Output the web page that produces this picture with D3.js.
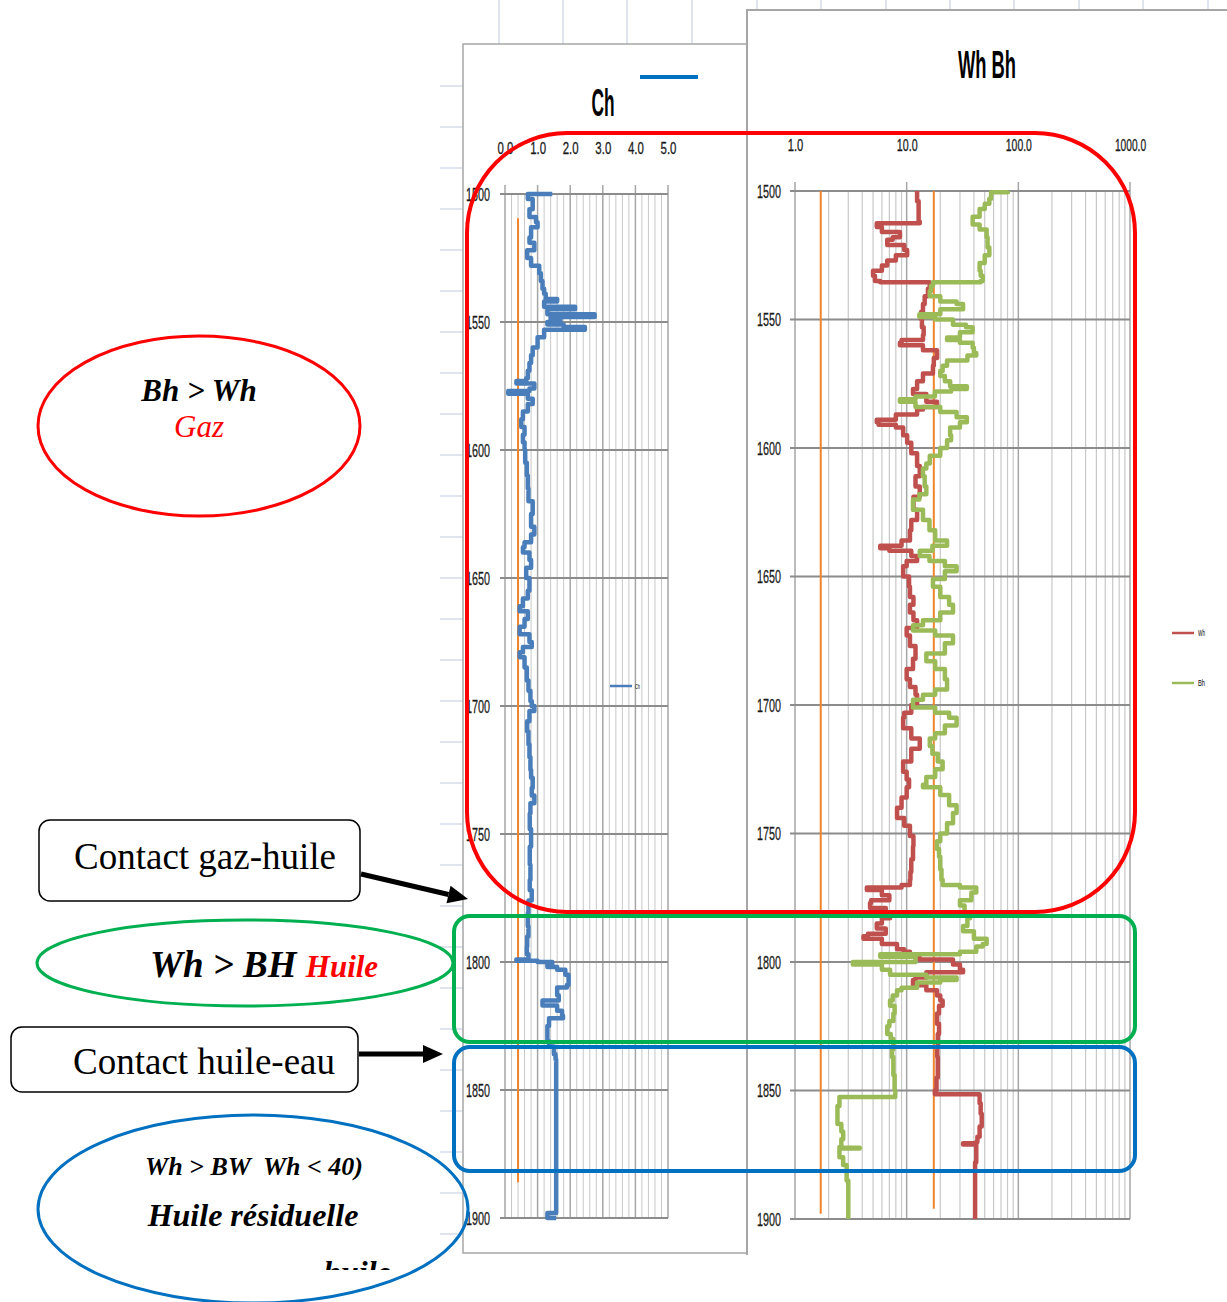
<!DOCTYPE html>
<html>
<head>
<meta charset="utf-8">
<script src="https://cdn.jsdelivr.net/npm/d3@7"></script>
<style>
  body { margin: 0; background: #fff; }
  svg { display: block; }
</style>
</head>
<body>
<svg id="chart" width="1227" height="1302"></svg>
<script>
// depth ticks shared by both tracks
const depthTicks = [1500, 1550, 1600, 1650, 1700, 1750, 1800, 1850, 1900]
const chTicks = [0, 1, 2, 3, 4, 5]
const logTicks = [1, 10, 100, 1000]

// Ch track (depth m, Ch value)
const chDepth = [1500,1500,1502,1506,1509,1511,1513,1517,1519,1522,1525,1528,1531,1534,1537,1539,1541,1542,1544,1545,1547,1548,1549,1550,1551,1552,1553,1556,1560,1563,1566,1569,1572,1573,1574,1576,1577,1578,1580,1582,1585,1588,1591,1594,1597,1600,1605,1610,1615,1620,1625,1630,1633,1636,1638,1640,1643,1646,1650,1655,1658,1661,1663,1666,1669,1672,1675,1677,1679,1681,1685,1690,1694,1698,1700,1702,1706,1710,1715,1720,1725,1728,1732,1735,1738,1742,1748,1755,1762,1768,1772,1776,1781,1786,1790,1794,1797,1799,1799.5,1800,1801,1802,1803,1805,1809,1810,1813,1815,1817,1819,1821,1822,1825,1831,1833,1836,1838,1850,1896,1898,1900]
const chValue = [1.45,0.7,0.85,0.75,0.95,1.0,0.8,0.75,0.9,0.68,0.8,1.05,1.1,1.15,1.2,1.25,1.6,1.2,2.15,1.3,2.75,1.4,1.7,1.3,1.8,2.45,1.2,1.0,0.85,0.8,0.75,0.7,0.65,0.35,0.9,0.75,0.1,0.7,0.85,0.7,0.55,0.5,0.6,0.55,0.6,0.62,0.67,0.7,0.72,0.85,0.8,0.9,0.8,0.6,0.55,0.75,0.8,0.65,0.75,0.7,0.55,0.45,0.7,0.6,0.45,0.75,0.82,0.55,0.45,0.6,0.67,0.72,0.78,0.82,0.9,0.75,0.68,0.72,0.75,0.78,0.8,0.85,0.82,0.9,0.78,0.76,0.8,0.76,0.78,0.76,0.82,0.72,0.7,0.72,0.68,0.67,0.72,0.35,1.0,1.45,1.3,1.6,1.85,1.95,1.9,1.6,1.65,1.15,1.6,1.75,1.78,1.35,1.3,1.35,1.5,1.55,1.57,1.57,1.57,1.3,1.57]

// Wh track
const whDepth = [1500,1504,1508,1512,1512.5,1514,1516,1518,1519,1521,1523,1525,1527,1529,1531,1533,1535,1535.5,1538,1541,1544,1547,1550,1553,1556,1558,1559,1560,1562,1565,1568,1571,1574,1577,1579,1582,1584,1585,1587,1589,1590,1591,1592,1595,1598,1602,1607,1611,1615,1619,1624,1628,1632,1636,1638,1639,1640,1642,1644,1646,1650,1654,1658,1661,1664,1667,1670,1673,1677,1682,1686,1690,1693,1696,1700,1703,1705,1709,1713,1717,1722,1726,1729,1732,1736,1740,1744,1747,1751,1755,1760,1765,1768,1770,1771,1772,1774,1776,1777,1779,1781,1783,1785,1787,1789,1790,1791,1793,1795,1796,1797,1799,1801,1803,1804,1806,1807,1809,1811,1813,1815,1817,1820,1824,1828,1833,1837,1845,1850,1851,1851.5,1855,1859,1864,1868,1870,1870.5,1871,1874,1878,1900]
const whValue = [12.4,12.8,12.8,13.1,5.4,6.0,8.7,7.5,6.7,9.5,10.1,8,6.7,6.0,5.0,5.2,5.8,16.1,15.5,14.5,14.0,13.5,13.7,14.2,14.0,9.0,8.7,14,18.7,17.5,17.2,14,12.4,11.4,15,18.7,14,12.4,8,5.4,5.6,8,9.3,10.1,11,12.4,13.1,12,13.1,11.5,12.4,11,10.7,9,5.8,7,11,12.4,10,9.3,10.5,10.7,11.5,10.7,11.5,12.4,10,10.7,12,11.4,10,10.7,12,12.4,11,9.5,9.3,11,13.1,11,9.3,10,10.5,10,9,8.2,9.5,10.7,11.5,11.4,11,10.8,10.7,9,4.4,6,7,4.8,4.7,6.5,7.1,6,5.4,6.5,4.5,4.1,6,8.2,9.5,10.7,13,26,30,32,15,12,11.4,15,18.7,20,21,19.5,18.7,19.5,19,18.8,19,18.5,17.9,17.9,45,46,47,45,43,42,32,42,42,41,41]

// Bh track
const bhDepth = [1500,1500.5,1503,1505,1507,1510,1513,1515,1518,1522,1525,1528,1531,1533,1535,1535.5,1537,1539,1541,1543,1544,1546,1548,1549,1550,1552,1553,1555,1557,1558,1559,1561,1563,1564,1566,1568,1570,1572,1574,1576,1577,1578,1580,1581,1582,1584,1586,1588,1590,1592,1595,1597,1600,1603,1606,1608,1611,1615,1618,1620,1624,1628,1632,1636,1638,1640,1642,1644,1646,1648,1651,1654,1658,1661,1664,1667,1669,1671,1673,1676,1680,1683,1686,1690,1694,1696,1698,1701,1703,1705,1708,1711,1713,1716,1719,1722,1725,1728,1731,1732,1735,1739,1742,1746,1750,1753,1756,1759,1764,1768,1770,1771,1773,1776,1778,1781,1783,1786,1788,1791,1793,1794,1796,1797,1798,1800,1801,1803,1805,1806,1807,1808,1810,1811,1813,1815,1817,1820,1823,1825,1828,1830,1834,1837,1844,1850,1852,1852.5,1856,1859,1863,1866,1869,1872,1872.3,1872.6,1876,1879,1885,1900]
const bhValue = [80.7,57,55,50,45,39,45,52,53,55,50,45,46,48,46,17.2,16.5,16.1,20,28,32,20,13,18,26,34,39,30,23,30,39,40,42,35,23,21,20,22,24.5,34.6,25,17.9,12,8.7,12,20,28,34.6,30,24.5,25,23,20,16.1,15,14,14.5,15,13,11.4,14,16,18,23,17,13.1,16,22,28,22,17.2,20,24,26,20,14,11.4,18,26,22,15,18,22,23,18,14,11.4,18,24,28,22,18,16.1,17,19,21,18,15,14,20,24,28,26,23,20,18.7,19.5,20,20.5,21,30,42,38,30,33,37,35,32,40,52,48,42,30,5.8,12,3.3,6,7.1,15,28,20,12.4,9,8.2,7.5,7.1,7.8,7.6,7,6.7,7.2,7.6,7.4,7.6,7.8,7.9,7.9,2.5,2.4,2.4,2.6,2.7,2.6,2.5,3.8,2.5,2.7,2.9,3.0,3.0]

// orange cut-off lines: value and depth span
const chCutoff = { value: 0.4, from: 1509.5, to: 1886 }
const whCutoffs = [{ value: 1.7, from: 1500, to: 1898 }, { value: 17.5, from: 1500, to: 1896 }]

const svg = d3.select('#chart')
const GRID = '#a6a6a6', GRIDMINOR = '#c8c8c8', XLGRID = '#d5dbe8'
const ORANGE = '#f0842c'
const SANS = 'Liberation Sans, Arial'

// condensed calibri-like text
function narrow(sel, perChar) {
  sel.each(function() {
    let t = d3.select(this), n = t.text().length
    t.attr('textLength', n * perChar).attr('lengthAdjust', 'spacingAndGlyphs')
      .attr('stroke', '#1a1a1a').attr('stroke-width', 0.3)
  })
}

// spreadsheet cells behind the charts
let bg = svg.append('g')
;[499, 563, 627, 692].forEach(x => bg.append('line').attr('x1', x).attr('x2', x).attr('y1', 0).attr('y2', 44))
;[757, 821, 886, 950, 1014, 1079, 1143, 1208].forEach(x => bg.append('line').attr('x1', x).attr('x2', x).attr('y1', 0).attr('y2', 10))
d3.range(86, 1260, 41).forEach(y => bg.append('line').attr('x1', 440).attr('x2', 463).attr('y1', y).attr('y2', y))
bg.selectAll('line').attr('stroke', XLGRID).attr('stroke-width', 1.5)

// chart frames
svg.append('rect').attr('x', 463).attr('y', 44).attr('width', 285).attr('height', 1209)
  .attr('fill', '#fff').attr('stroke', GRID).attr('stroke-width', 1.5)
svg.append('path').attr('d', 'M747,1255V10H1227').attr('fill', 'none').attr('stroke', GRID).attr('stroke-width', 2)
svg.append('rect').attr('x', 748).attr('y', 11).attr('width', 479).attr('height', 1243).attr('fill', '#fff')

// ---------- Ch track ----------
let xCh = d3.scaleLinear().domain([0, 5]).range([505, 668])
let yCh = d3.scaleLinear().domain([1500, 1900]).range([194, 1218])
let gCh = svg.append('g')

gCh.selectAll('.minor').data(d3.range(0, 5.01, 0.2).filter(v => Math.abs(v - Math.round(v)) > 0.01)).join('line')
  .attr('x1', d => xCh(d)).attr('x2', d => xCh(d)).attr('y1', yCh(1500)).attr('y2', yCh(1900))
  .attr('stroke', GRIDMINOR).attr('stroke-width', 1)
gCh.selectAll('.major').data(chTicks).join('line')
  .attr('x1', d => xCh(d)).attr('x2', d => xCh(d)).attr('y1', yCh(1500) - 9).attr('y2', yCh(1900))
  .attr('stroke', GRID).attr('stroke-width', 1.5)
gCh.selectAll('.hgrid').data(depthTicks).join('line')
  .attr('x1', xCh(0) - 5).attr('x2', xCh(5)).attr('y1', d => yCh(d)).attr('y2', d => yCh(d))
  .attr('stroke', '#8c8c8c').attr('stroke-width', 2)

gCh.append('g').attr('transform', `translate(0,${yCh(1500) - 37})`)
  .call(d3.axisTop(xCh).tickValues(chTicks).tickFormat(d3.format('.1f')).tickSize(0))
  .call(g => g.select('.domain').remove())
  .selectAll('text').attr('font-family', SANS).attr('font-size', 17).attr('fill', '#1a1a1a')
  .call(narrow, 5.3)
gCh.append('g').attr('transform', `translate(${xCh(0) - 12},0)`)
  .call(d3.axisLeft(yCh).tickValues(depthTicks).tickFormat(d3.format('d')).tickSize(0))
  .call(g => g.select('.domain').remove())
  .selectAll('text').attr('font-family', SANS).attr('font-size', 19).attr('fill', '#1a1a1a')
  .call(narrow, 6)

gCh.append('line').attr('x1', xCh(chCutoff.value)).attr('x2', xCh(chCutoff.value))
  .attr('y1', yCh(chCutoff.from)).attr('y2', yCh(chCutoff.to)).attr('stroke', ORANGE).attr('stroke-width', 2)

let chPts = chDepth.map((d, i) => [chValue[i], d])
gCh.append('path').datum(chPts)
  .attr('d', d3.line().x(d => xCh(d[0])).y(d => yCh(d[1])).curve(d3.curveStepBefore))
  .attr('fill', 'none').attr('stroke', '#4a7ebb').attr('stroke-width', 4.5).attr('stroke-linejoin', 'round')

gCh.append('text').attr('x', 603).attr('y', 116).attr('text-anchor', 'middle')
  .attr('font-family', SANS).attr('font-weight', 'bold').attr('font-size', 38).text('Ch')
  .attr('textLength', 23).attr('lengthAdjust', 'spacingAndGlyphs')
gCh.append('line').attr('x1', 640).attr('x2', 698).attr('y1', 77).attr('y2', 77).attr('stroke', '#0070c0').attr('stroke-width', 4)
gCh.append('line').attr('x1', 610).attr('x2', 632).attr('y1', 686).attr('y2', 686).attr('stroke', '#4a7ebb').attr('stroke-width', 2.5)
gCh.append('text').attr('x', 635).attr('y', 689).attr('font-family', SANS).attr('font-size', 8).text('Ch')
  .attr('textLength', 5).attr('lengthAdjust', 'spacingAndGlyphs')

// ---------- Wh / Bh track ----------
let xW = d3.scaleLog().domain([1, 1000]).range([795, 1130])
let yW = d3.scaleLinear().domain([1500, 1900]).range([191, 1219])
let gW = svg.append('g')

let minorLog = []
;[1, 10, 100].forEach(p => d3.range(2, 10).forEach(k => minorLog.push(p * k)))
gW.selectAll('.minor').data(minorLog).join('line')
  .attr('x1', d => xW(d)).attr('x2', d => xW(d)).attr('y1', yW(1500)).attr('y2', yW(1900))
  .attr('stroke', GRIDMINOR).attr('stroke-width', 1.2)
gW.selectAll('.major').data(logTicks).join('line')
  .attr('x1', d => xW(d)).attr('x2', d => xW(d)).attr('y1', yW(1500) - 9).attr('y2', yW(1900))
  .attr('stroke', GRID).attr('stroke-width', 1.5)
gW.selectAll('.hgrid').data(depthTicks).join('line')
  .attr('x1', xW(1) - 5).attr('x2', xW(1000)).attr('y1', d => yW(d)).attr('y2', d => yW(d))
  .attr('stroke', '#8c8c8c').attr('stroke-width', 2)

gW.append('g').attr('transform', `translate(0,${yW(1500) - 37})`)
  .call(d3.axisTop(xW).tickValues(logTicks).tickFormat(d3.format('.1f')).tickSize(0))
  .call(g => g.select('.domain').remove())
  .selectAll('text').attr('font-family', SANS).attr('font-size', 17).attr('fill', '#1a1a1a')
  .call(narrow, 5.2)
gW.append('g').attr('transform', `translate(${xW(1) - 11},0)`)
  .call(d3.axisLeft(yW).tickValues(depthTicks).tickFormat(d3.format('d')).tickSize(0))
  .call(g => g.select('.domain').remove())
  .selectAll('text').attr('font-family', SANS).attr('font-size', 19).attr('fill', '#1a1a1a')
  .call(narrow, 6)

gW.selectAll('.cut').data(whCutoffs).join('line')
  .attr('x1', d => xW(d.value)).attr('x2', d => xW(d.value))
  .attr('y1', d => yW(d.from)).attr('y2', d => yW(d.to)).attr('stroke', ORANGE).attr('stroke-width', 2)

let logLine = d3.line().x(d => xW(d[0])).y(d => yW(d[1])).curve(d3.curveStepBefore)
gW.append('path').datum(whDepth.map((d, i) => [whValue[i], d])).attr('d', logLine)
  .attr('fill', 'none').attr('stroke', '#c0504d').attr('stroke-width', 4.5).attr('stroke-linejoin', 'round')
gW.append('path').datum(bhDepth.map((d, i) => [bhValue[i], d])).attr('d', logLine)
  .attr('fill', 'none').attr('stroke', '#9bbb59').attr('stroke-width', 4.5).attr('stroke-linejoin', 'round')

gW.append('text').attr('x', 987).attr('y', 78).attr('text-anchor', 'middle')
  .attr('font-family', SANS).attr('font-weight', 'bold').attr('font-size', 38).text('Wh Bh')
  .attr('textLength', 58).attr('lengthAdjust', 'spacingAndGlyphs')

let legW = [{ name: 'Wh', color: '#c0504d', y: 633 }, { name: 'Bh', color: '#9bbb59', y: 683 }]
legW.forEach(l => {
  gW.append('line').attr('x1', 1172).attr('x2', 1194).attr('y1', l.y).attr('y2', l.y).attr('stroke', l.color).attr('stroke-width', 2.5)
  gW.append('text').attr('x', 1198).attr('y', l.y + 3).attr('font-family', SANS).attr('font-size', 9).text(l.name)
    .attr('textLength', 7).attr('lengthAdjust', 'spacingAndGlyphs')
})

// ---------- interpretation overlay ----------
let ann = svg.append('g')
ann.append('rect').attr('x', 467).attr('y', 133).attr('width', 668).attr('height', 779).attr('rx', 100).attr('ry', 100)
  .attr('fill', 'none').attr('stroke', '#ff0000').attr('stroke-width', 4)
ann.append('rect').attr('x', 454).attr('y', 916).attr('width', 681).attr('height', 126).attr('rx', 16)
  .attr('fill', 'none').attr('stroke', '#00b050').attr('stroke-width', 4)
ann.append('rect').attr('x', 454).attr('y', 1047).attr('width', 681).attr('height', 124).attr('rx', 16)
  .attr('fill', 'none').attr('stroke', '#0070c0').attr('stroke-width', 4)

const serif = 'Liberation Serif, Times New Roman, serif'

ann.append('ellipse').attr('cx', 199).attr('cy', 426).attr('rx', 161).attr('ry', 90)
  .attr('fill', 'none').attr('stroke', '#ff0000').attr('stroke-width', 3)
ann.append('text').attr('x', 199).attr('y', 401).attr('text-anchor', 'middle').attr('font-family', serif)
  .attr('font-weight', 'bold').attr('font-style', 'italic').attr('font-size', 31).text('Bh > Wh')
ann.append('text').attr('x', 199).attr('y', 437).attr('text-anchor', 'middle').attr('font-family', serif)
  .attr('font-style', 'italic').attr('font-size', 31).attr('fill', '#ff0000').text('Gaz')

ann.append('rect').attr('x', 39).attr('y', 820).attr('width', 321).attr('height', 81).attr('rx', 11)
  .attr('fill', '#fff').attr('stroke', '#000').attr('stroke-width', 1.5)
ann.append('text').attr('x', 205).attr('y', 869).attr('text-anchor', 'middle').attr('font-family', serif)
  .attr('font-size', 37).text('Contact gaz-huile')

ann.append('ellipse').attr('cx', 245).attr('cy', 963).attr('rx', 208).attr('ry', 43)
  .attr('fill', 'none').attr('stroke', '#00b050').attr('stroke-width', 3)
let t2 = ann.append('text').attr('x', 150).attr('y', 977).attr('font-family', serif)
  .attr('font-weight', 'bold').attr('font-style', 'italic')
t2.append('tspan').attr('font-size', 37).text('Wh > BH ')
t2.append('tspan').attr('font-size', 31).attr('fill', '#ff0000').text('Huile')

ann.append('rect').attr('x', 11).attr('y', 1027).attr('width', 347).attr('height', 65).attr('rx', 11)
  .attr('fill', '#fff').attr('stroke', '#000').attr('stroke-width', 1.5)
ann.append('text').attr('x', 204).attr('y', 1074).attr('text-anchor', 'middle').attr('font-family', serif)
  .attr('font-size', 37).text('Contact huile-eau')

ann.append('ellipse').attr('cx', 253).attr('cy', 1209).attr('rx', 215).attr('ry', 94)
  .attr('fill', 'none').attr('stroke', '#0070c0').attr('stroke-width', 3)
svg.append('defs').append('clipPath').attr('id', 'clipTxt').append('rect')
  .attr('x', 0).attr('y', 1130).attr('width', 470).attr('height', 140)
let tb = ann.append('g').attr('clip-path', 'url(#clipTxt)').attr('font-family', serif)
  .attr('font-weight', 'bold').attr('font-style', 'italic')
tb.append('text').attr('x', 254).attr('y', 1175).attr('text-anchor', 'middle').attr('font-size', 26)
  .style('white-space', 'pre').text('Wh > BW  Wh < 40)')
tb.append('text').attr('x', 253).attr('y', 1226).attr('text-anchor', 'middle').attr('font-size', 32).text('Huile résiduelle')
tb.append('text').attr('x', 357).attr('y', 1283).attr('text-anchor', 'middle').attr('font-size', 32).text('huile')

// arrows
function arrow(x1, y1, x2, y2) {
  let a = Math.atan2(y2 - y1, x2 - x1), L = 20, W = 9
  let bx = x2 - L * Math.cos(a), by = y2 - L * Math.sin(a)
  ann.append('line').attr('x1', x1).attr('y1', y1).attr('x2', bx).attr('y2', by)
    .attr('stroke', '#000').attr('stroke-width', 5)
  ann.append('path').attr('d', `M${x2},${y2}L${bx - W * Math.sin(a)},${by + W * Math.cos(a)}L${bx + W * Math.sin(a)},${by - W * Math.cos(a)}Z`)
    .attr('fill', '#000')
}
arrow(361, 874, 468, 899)
arrow(359, 1054, 443, 1054)
</script>
</body>
</html>
